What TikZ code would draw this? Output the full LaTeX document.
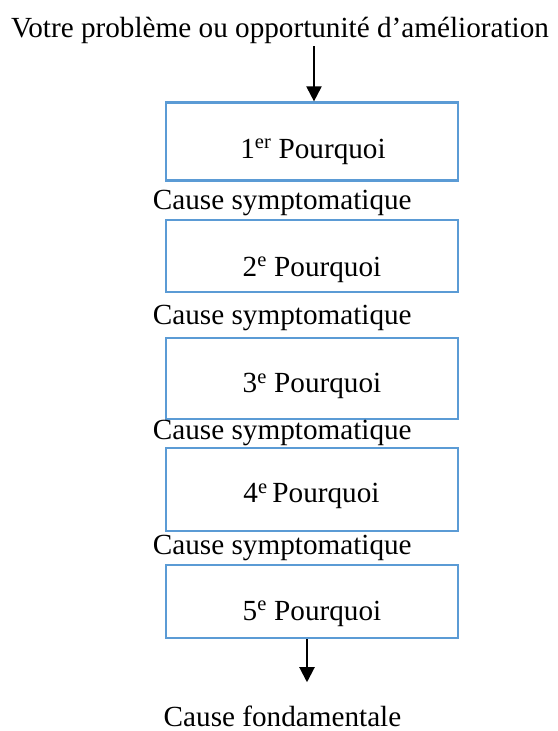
\documentclass[tikz,border=0pt]{standalone}
\usepackage{fontspec}
\setmainfont{Liberation Serif}
\usetikzlibrary{arrows.meta}
\definecolor{boxblue}{HTML}{5B9BD5}
\begin{document}
\begin{tikzpicture}[x=1pt, y=-1pt,
  txt/.style={font=\fontsize{29.2}{35}\selectfont, inner sep=0pt, anchor=base},
  whybox/.style={draw=boxblue, line width=2.2pt, minimum width=292pt, inner sep=0pt},
  arr/.style={line width=2pt, -{Triangle[width=15pt,length=15pt]}}]
  \useasboundingbox (0,0) rectangle (557,731);

  % problem statement
  \node[txt] (title) at (280,37.3) {Votre problème ou opportunité d’amélioration};

  % the five "why" boxes
  \node[whybox, minimum height=78pt] (b1) at (312,141.5) {};
  \node[whybox, minimum height=72pt] (b2) at (312,256) {};
  \node[whybox, minimum height=81pt] (b3) at (312,378.5) {};
  \node[whybox, minimum height=83pt] (b4) at (312,489.5) {};
  \node[whybox, minimum height=73pt] (b5) at (312,601.5) {};

  \node[txt] (w1) at (313,158) {1\textsuperscript{er} Pourquoi};
  \node[txt] (w2) at (312,276) {2\textsuperscript{e} Pourquoi};
  \node[txt] (w3) at (312,392.7) {3\textsuperscript{e} Pourquoi};
  \node[txt] (w4) at (311.5,502.7) {4\textsuperscript{e}\,Pourquoi};
  \node[txt] (w5) at (312,620) {5\textsuperscript{e} Pourquoi};

  % symptom labels between the boxes
  \node[txt] (c1) at (282.3,209.3) {Cause symptomatique};
  \node[txt] (c2) at (282.3,324) {Cause symptomatique};
  \node[txt] (c3) at (282.3,439.3) {Cause symptomatique};
  \node[txt] (c4) at (282.3,554) {Cause symptomatique};

  % root cause
  \node[txt] (res) at (282.5,726.5) {Cause fondamentale};

  % connectors
  \draw[arr, shorten <=2.5pt] ([xshift=2pt]title.south -| b1.north) -- ([xshift=2pt]b1.north);
  \draw[arr, shorten >=23.5pt] ([xshift=-5pt]b5.south) -- ([xshift=-5pt]b5.south |- res.north);
\end{tikzpicture}
\end{document}
